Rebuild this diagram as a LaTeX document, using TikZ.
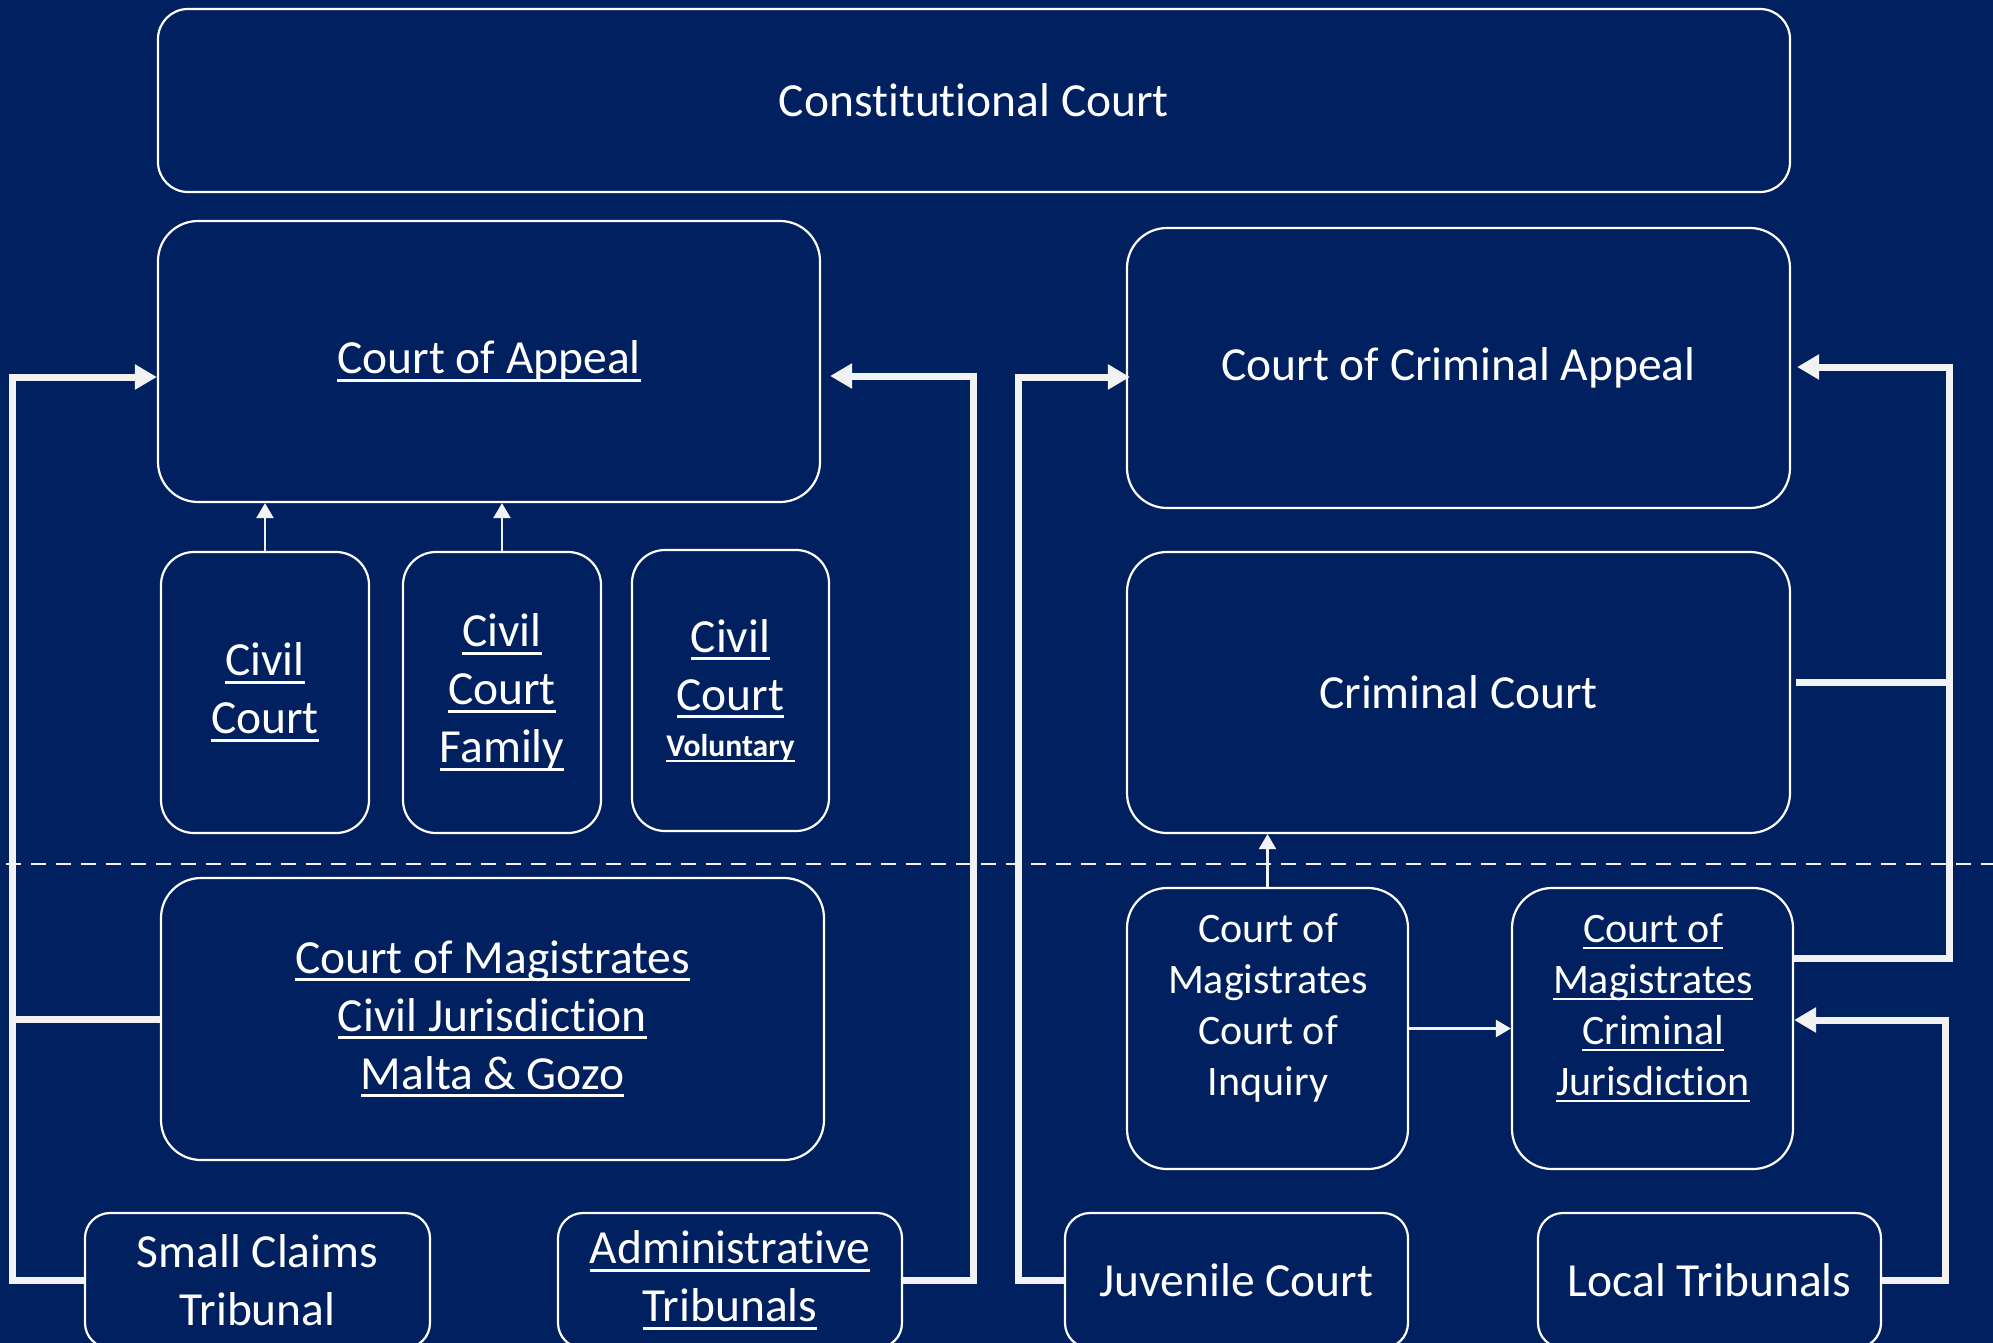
\documentclass[tikz,border=0pt]{standalone}
\usepackage{fontspec}
\setmainfont{Carlito}[Ligatures=NoCommon]
\usetikzlibrary{arrows.meta}
\definecolor{navy}{HTML}{002060}
\definecolor{lnc}{HTML}{F2F2F2}
\newcommand\ulw[1]{\leavevmode\setbox0=\hbox{#1}\rlap{\rule[-0.17em]{\wd0}{0.065em}}\box0}
\begin{document}
\begin{tikzpicture}[x=0.5pt,y=-0.5pt,
  box/.style={draw=white, line width=1.1pt, rounded corners=20pt, rectangle, align=center, text=white, font=\fontsize{23.75}{29}\selectfont, inner sep=0pt},
  smalltxt/.style={align=center, text=white, font=\fontsize{21}{25.5}\selectfont, inner sep=0pt},
  conn/.style={draw=lnc, line width=3.5pt},
  bigtip/.style={-{Triangle[length=11pt,width=12pt]}},
  thinarr/.style={draw=lnc, line width=1.2pt, -{Triangle[length=7.5pt,width=8.5pt]}}]
\path[use as bounding box, fill=navy] (0,0) rectangle (1993,1343);
\clip (0,0) rectangle (1993,1343);
% divider
\draw[draw=lnc, line width=1pt, dash pattern=on 7.5pt off 5pt] (6,864) -- (1993,864);
% boxes
\node[box, minimum width=816pt, minimum height=91.5pt, rounded corners=15pt] (const) at (974,100.5) {Constitutional Court};
\node[box, minimum width=331pt, minimum height=140.5pt] (appeal) at (489,361.5) {\ulw{Court of Appeal}};
\node[box, minimum width=331.5pt, minimum height=140pt] (crimappeal) at (1458.5,368) {Court of Criminal Appeal};
\node[box, minimum width=104pt, minimum height=140.5pt, rounded corners=16.5pt] (civil) at (265,692.5) {\ulw{Civil}\\\ulw{Court}};
\node[box, minimum width=99pt, minimum height=140.5pt, rounded corners=16.5pt] (family) at (502,692.5) {\ulw{Civil}\\\ulw{Court}\\\ulw{Family}};
\node[box, minimum width=98.5pt, minimum height=140.5pt, rounded corners=16.5pt] (voluntary) at (730.5,690.5) {\ulw{Civil}\\\ulw{Court}\\[-6pt]{\fontsize{15.8}{19}\selectfont\bfseries\ulw{Voluntary}}};
\node[box, minimum width=331.5pt, minimum height=140.5pt] (crimcourt) at (1458.5,692.5) {Criminal Court};
\node[box, minimum width=331.5pt, minimum height=141pt] (magciv) at (492.5,1019) {\ulw{Court of Magistrates}\\\ulw{Civil Jurisdiction}\\\ulw{Malta \& Gozo}};
\node[box, minimum width=140.5pt, minimum height=140.5pt] (inquiry) at (1267.5,1028.5) {};
\node[smalltxt] (inquiryt) at (1268,1008) {Court of\\Magistrates\\Court of\\Inquiry};
\node[box, minimum width=140.5pt, minimum height=140.5pt] (magcrim) at (1652.5,1028.5) {};
\node[smalltxt] (magcrimt) at (1653,1008) {\ulw{Court of}\\\ulw{Magistrates}\\\ulw{Criminal}\\\ulw{Jurisdiction}};
\node[box, minimum width=172.5pt, minimum height=67.5pt, rounded corners=12.5pt] (small) at (257.5,1280.5) {Small Claims\\Tribunal};
\node[box, minimum width=172pt, minimum height=67.5pt, rounded corners=12.5pt] (admin) at (730,1280.5) {\ulw{Administrative}\\\ulw{Tribunals}};
\node[box, minimum width=171.5pt, minimum height=67.5pt, rounded corners=12.5pt] (juvenile) at (1236.5,1280.5) {Juvenile Court};
\node[box, minimum width=171.5pt, minimum height=67.5pt, rounded corners=12.5pt] (local) at (1709.5,1280.5) {Local Tribunals};
% thick connectors
\coordinate (lv) at (12,377);
\draw[conn,bigtip] (small.west) -| (lv) -- (appeal.west |- lv);
\draw[conn] (magciv.west) -- (magciv.west -| lv);
\coordinate (av) at (973,376);
\draw[conn,bigtip] (admin.east) -| (av) -- ([xshift=4.5pt]appeal.east |- av);
\coordinate (jv) at (1018,377);
\draw[conn,bigtip] (juvenile.west) -| (jv) -- ([xshift=2pt]crimappeal.west |- jv);
\coordinate (rtop) at (1949,367);
\coordinate (rbot) at (1949,958);
\coordinate (rmid) at (1949,682);
\draw[conn,bigtip] (magcrim.east |- rbot) -- (rbot) -- (rtop) -- ([xshift=3pt]crimappeal.east |- rtop);
\draw[conn] ([xshift=2.5pt]crimcourt.east |- rmid) -- (rmid);
\coordinate (r2) at (1945,1020);
\draw[conn,bigtip] (local.east) -| (r2) -- (magcrim.east |- r2);
% thin arrows
\draw[thinarr] (civil.north) -- (civil.north |- appeal.south);
\draw[thinarr] (family.north) -- (family.north |- appeal.south);
\draw[thinarr] (inquiry.north) -- (inquiry.north |- crimcourt.south);
\draw[thinarr] (inquiry.east) -- (magcrim.west);
\end{tikzpicture}
\end{document}
